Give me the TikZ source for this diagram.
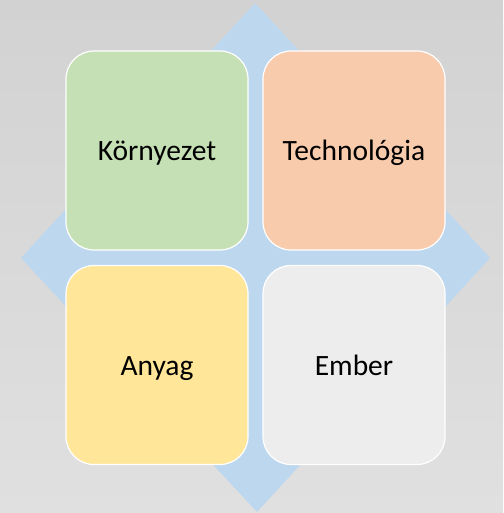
\documentclass[tikz,border=0pt]{standalone}
\usepackage{fontspec}
\setmainfont{Carlito}
\definecolor{bgtop}{HTML}{D2D2D2}
\definecolor{bgbot}{HTML}{E0E0E0}
\definecolor{diam}{HTML}{BDD7EE}
\definecolor{cgreen}{HTML}{C5E0B4}
\definecolor{corange}{HTML}{F8CBAD}
\definecolor{cyellow}{HTML}{FFE699}
\definecolor{cgray}{HTML}{EDEDED}
\begin{document}
\begin{tikzpicture}[x=1pt,y=-1pt,
  tile/.style={draw=white,line width=1.2pt,rounded corners=28pt,
    minimum width=182pt,minimum height=199pt,inner sep=0pt,
    text height=20pt,text depth=0pt,
    font=\fontsize{29.5}{34}\selectfont,text=black}]
\useasboundingbox (0,0) rectangle (503,513);
\shade[top color=bgtop,bottom color=bgbot] (0,0) rectangle (503,513);
\fill[diam] (255,3) -- (490,258) -- (257,512) -- (21,258) -- cycle;
\node[tile,fill=cgreen] (env) at (157,150.5) {Környezet};
\node[tile,fill=corange] (tech) at (354,150.5) {Technológia};
\node[tile,fill=cyellow] (mat) at (157,365) {Anyag};
\node[tile,fill=cgray] (man) at (354,365) {Ember};
\end{tikzpicture}
\end{document}
